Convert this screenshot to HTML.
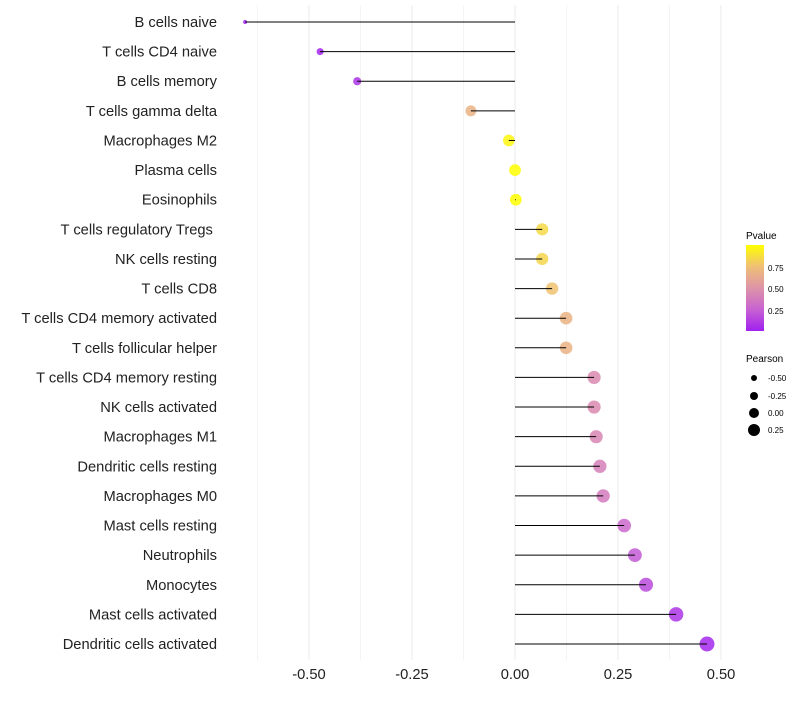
<!DOCTYPE html>
<html><head><meta charset="utf-8"><style>
body{margin:0;background:#fff;font-family:"Liberation Sans",sans-serif;}
</style></head><body>
<svg id="chart" width="800" height="700" xmlns="http://www.w3.org/2000/svg">
<defs><linearGradient id="pg" x1="0" y1="1" x2="0" y2="0">
<stop offset="0" stop-color="#A020F0"/><stop offset="0.25" stop-color="#C862D2"/><stop offset="0.5" stop-color="#DE94A8"/><stop offset="0.75" stop-color="#EFBF76"/><stop offset="1" stop-color="#FFFF00"/></linearGradient></defs>
<g id="grid"></g><g id="points"></g><g id="marks"></g><g id="labels"></g>
<g>
<text x="746" y="239" font-size="10" fill="#000">Pvalue</text>
<rect x="746" y="245" width="18" height="86" fill="url(#pg)"/>
<text x="768" y="271" font-size="8">0.75</text><text x="768" y="292" font-size="8">0.50</text><text x="768" y="314" font-size="8">0.25</text>
</g>
<g>
<text x="746" y="362" font-size="10">Pearson</text>
<circle cx="754" cy="378" r="3"/><circle cx="754" cy="396" r="4"/><circle cx="754" cy="413" r="5"/><circle cx="754" cy="430" r="6"/>
<text x="768" y="381" font-size="8">-0.50</text><text x="768" y="399" font-size="8">-0.25</text><text x="768" y="416" font-size="8">0.00</text><text x="768" y="433" font-size="8">0.25</text>
</g>
</svg>
<script>
const categories=["B cells naive","T cells CD4 naive","B cells memory","T cells gamma delta","Macrophages M2","Plasma cells","Eosinophils","T cells regulatory  Tregs\u00a0","NK cells resting","T cells CD8","T cells CD4 memory activated","T cells follicular helper","T cells CD4 memory resting","NK cells activated","Macrophages M1","Dendritic cells resting","Macrophages M0","Mast cells resting","Neutrophils","Monocytes","Mast cells activated","Dendritic cells activated"];
const pearson=[-0.655,-0.473,-0.383,-0.107,-0.015,0.0,0.002,0.066,0.066,0.09,0.124,0.124,0.192,0.192,0.197,0.206,0.214,0.265,0.291,0.318,0.391,0.466];
const pvalues=[0.0,0.02,0.07,0.68,0.97,1.0,1.0,0.85,0.84,0.76,0.68,0.68,0.45,0.45,0.43,0.4,0.37,0.28,0.22,0.16,0.08,0.03];
const xTicks=[-0.5,-0.25,0,0.25,0.5];
const xTickLabels=["-0.50","-0.25","0.00","0.25","0.50"];
const NS="http://www.w3.org/2000/svg";
const xs=v=>515+v*412;
const ys=i=>22+i*(622/21);
const rs=v=>Math.sqrt(Math.max(1,34.4+46.4*v));
const stops=[[0,[160,32,240]],[0.25,[200,98,210]],[0.5,[222,148,168]],[0.75,[239,191,118]],[1,[255,255,0]]];
function col(p){for(let k=1;k<stops.length;k++){if(p<=stops[k][0]){const a=stops[k-1],b=stops[k],t=(p-a[0])/(b[0]-a[0]);return "rgb("+a[1].map((c,j)=>Math.round(c+(b[1][j]-c)*t)).join(",")+")";}}return "rgb(255,255,0)";}
function mk(t,at,parent){const e=document.createElementNS(NS,t);for(const k in at)e.setAttribute(k,at[k]);document.getElementById(parent).appendChild(e);return e;}
for(let v=-0.625;v<=0.5;v+=0.125){
 const l=mk('line',{x1:xs(v),x2:xs(v),y1:5,y2:660,stroke:Math.abs(v*4-Math.round(v*4))<1e-6?'#ebebeb':'#f4f4f4','stroke-width':1},'grid');
 
 
}
xTicks.forEach((v,i)=>{const t=mk('text',{x:xs(v),y:679,'text-anchor':'middle','font-size':14.7,fill:'#222'},'labels');t.textContent=xTickLabels[i];
 
 });
categories.forEach((c,i)=>{
 const y=ys(i);
 const t=mk('text',{x:217,y:y+5,'text-anchor':'end','font-size':14.7,fill:'#222'},'labels');t.textContent=c;
 
 
 const ci=mk('circle',{cx:xs(pearson[i]),cy:y,r:rs(pearson[i]),fill:col(pvalues[i]),'fill-opacity':0.85},'points');
 
 
 const l=mk('line',{x1:xs(0),x2:xs(pearson[i]),y1:y,y2:y,stroke:'#000','stroke-width':1},'marks');
 
 
});
</script>
</body></html>
